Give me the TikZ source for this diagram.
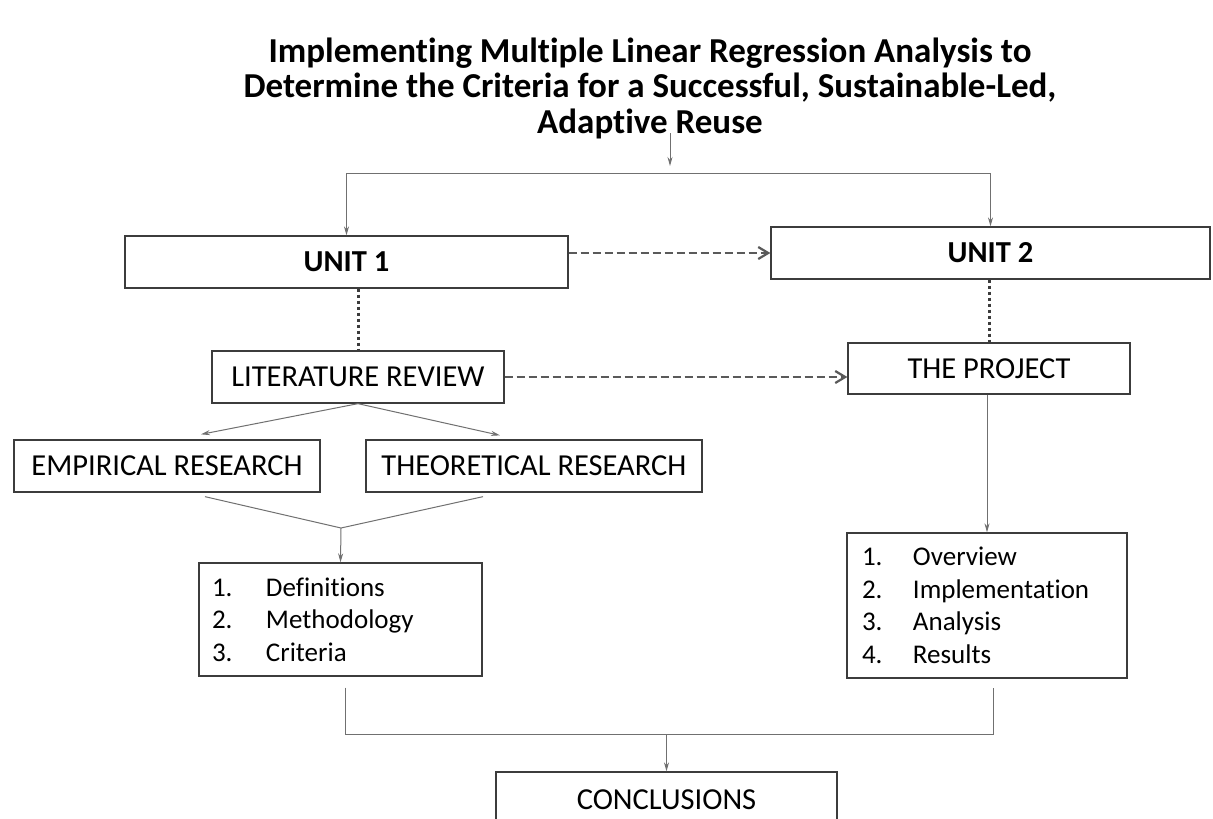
\documentclass[tikz,border=0pt]{standalone}
\usepackage{fontspec}
\setmainfont{Carlito}[Ligatures={NoCommon}]
\usetikzlibrary{arrows.meta,calc}

\definecolor{edgegray}{HTML}{3C3C3C}
\definecolor{linkgray}{HTML}{707070}
\definecolor{dashgray}{HTML}{5A5A5A}

\tikzset{
  box/.style={draw=edgegray, line width=1.3pt, rectangle, inner sep=0pt,
              font=\fontsize{30.5}{34}\selectfont, text=black},
  unitbox/.style={box, font=\bfseries\fontsize{30.5}{34}\selectfont},
  listbox/.style={box, align=left, font=\fontsize{27}{32.5}\selectfont},
  link/.style={draw=linkgray, line width=1pt},
  linkarrow/.style={link, -{Stealth[length=9pt,width=5pt]}},
  dasharrow/.style={draw=dashgray, line width=2.4pt, dash pattern=on 8pt off 4pt,
                    -{Straight Barb[length=10pt,width=12pt,line width=2.2pt]}},
  dotlink/.style={draw=edgegray, line width=3pt, dash pattern=on 3pt off 3pt}
}

\begin{document}
\begin{tikzpicture}[x=1pt,y=-1pt]
\clip (0,0) rectangle (1213,819);
\useasboundingbox (0,0) rectangle (1213,819);
\fill[white] (0,0) rectangle (1213,819);

% heading
\node[align=center, font=\bfseries\fontsize{35}{35.5}\selectfont] (title) at (650,88)
  {Implementing Multiple Linear Regression Analysis to\\
   Determine the Criteria for a Successful, Sustainable-Led,\\
   Adaptive Reuse};

% boxes
\node[unitbox, minimum width=443pt, minimum height=52pt] (unit1) at (346.5,262) {UNIT 1};
\node[unitbox, minimum width=439pt, minimum height=52pt] (unit2) at (990.5,253) {UNIT 2};
\node[box, minimum width=292pt, minimum height=52pt] (litrev) at (358,377) {LITERATURE REVIEW};
\node[box, minimum width=282pt, minimum height=51pt] (project) at (989,368.5) {THE PROJECT};
\node[box, minimum width=306pt, minimum height=52pt] (emp) at (167,466) {EMPIRICAL RESEARCH};
\node[box, minimum width=336pt, minimum height=52pt] (theo) at (534,466) {THEORETICAL RESEARCH};
\node[listbox, text width=257pt, inner xsep=13pt, minimum height=113pt] (defs) at (340.5,619.5)
  {\makebox[54pt][l]{1.}Definitions\\
   \makebox[54pt][l]{2.}Methodology\\
   \makebox[54pt][l]{3.}Criteria};
\node[listbox, text width=250pt, inner xsep=15pt, minimum height=145pt] (steps) at (987,605.5)
  {\makebox[51pt][l]{1.}Overview\\
   \makebox[51pt][l]{2.}Implementation\\
   \makebox[51pt][l]{3.}Analysis\\
   \makebox[51pt][l]{4.}Results};
\node[box, minimum width=341pt, minimum height=64pt] (concl) at (666.5,804) {};
\node[font=\fontsize{30.5}{34}\selectfont] (concltext) at (666.5,800) {CONCLUSIONS};

% split below the heading
\coordinate (tsrc) at (670,133);
\coordinate (bar) at (670,173);
\draw[linkarrow] (tsrc) -- ($(bar)+(0,-7)$);
\draw[link] (bar -| unit1.north) -- (bar -| unit2.north);
\draw[linkarrow] (bar -| unit1.north) -- (unit1.north);
\draw[linkarrow] (bar -| unit2.north) -- (unit2.north);

% unit 1 to unit 2, literature review to project
\draw[dasharrow] (unit1.east |- unit2.west) -- (unit2.west);
\draw[dasharrow] (litrev.east) -- (litrev.east -| project.west);

% dotted ties from each unit to its content
\draw[dotlink] (unit1.south -| litrev.north) -- (litrev.north);
\draw[dotlink] (unit2.south -| project.north) -- (project.north);

% literature review branches
\coordinate (empin) at ($(emp.north)+(34,-5)$);
\coordinate (theoin) at ($(theo.north)+(-34,-4)$);
\draw[linkarrow] (litrev.south) -- (empin);
\draw[linkarrow] (litrev.south) -- (theoin);

% both research strands merge into the definitions list
\coordinate (merge) at (341,528);
\draw[link] ($(emp.south)+(38,4)$) -- (merge) -- ($(theo.south)+(-51,4)$);
\draw[linkarrow] (merge) -- (defs.north);

% project to its steps
\draw[linkarrow] (project.south -| steps.north) -- (steps.north);

% both lists feed the conclusions
\coordinate (lbar) at (345,734);
\coordinate (rbar) at (993,734);
\draw[link] ($(defs.south)+(4.5,11)$) -- (lbar) -- (rbar) -- ($(steps.south)+(6,9)$);
\draw[linkarrow] (lbar -| concl.north) -- (concl.north);
\end{tikzpicture}
\end{document}
